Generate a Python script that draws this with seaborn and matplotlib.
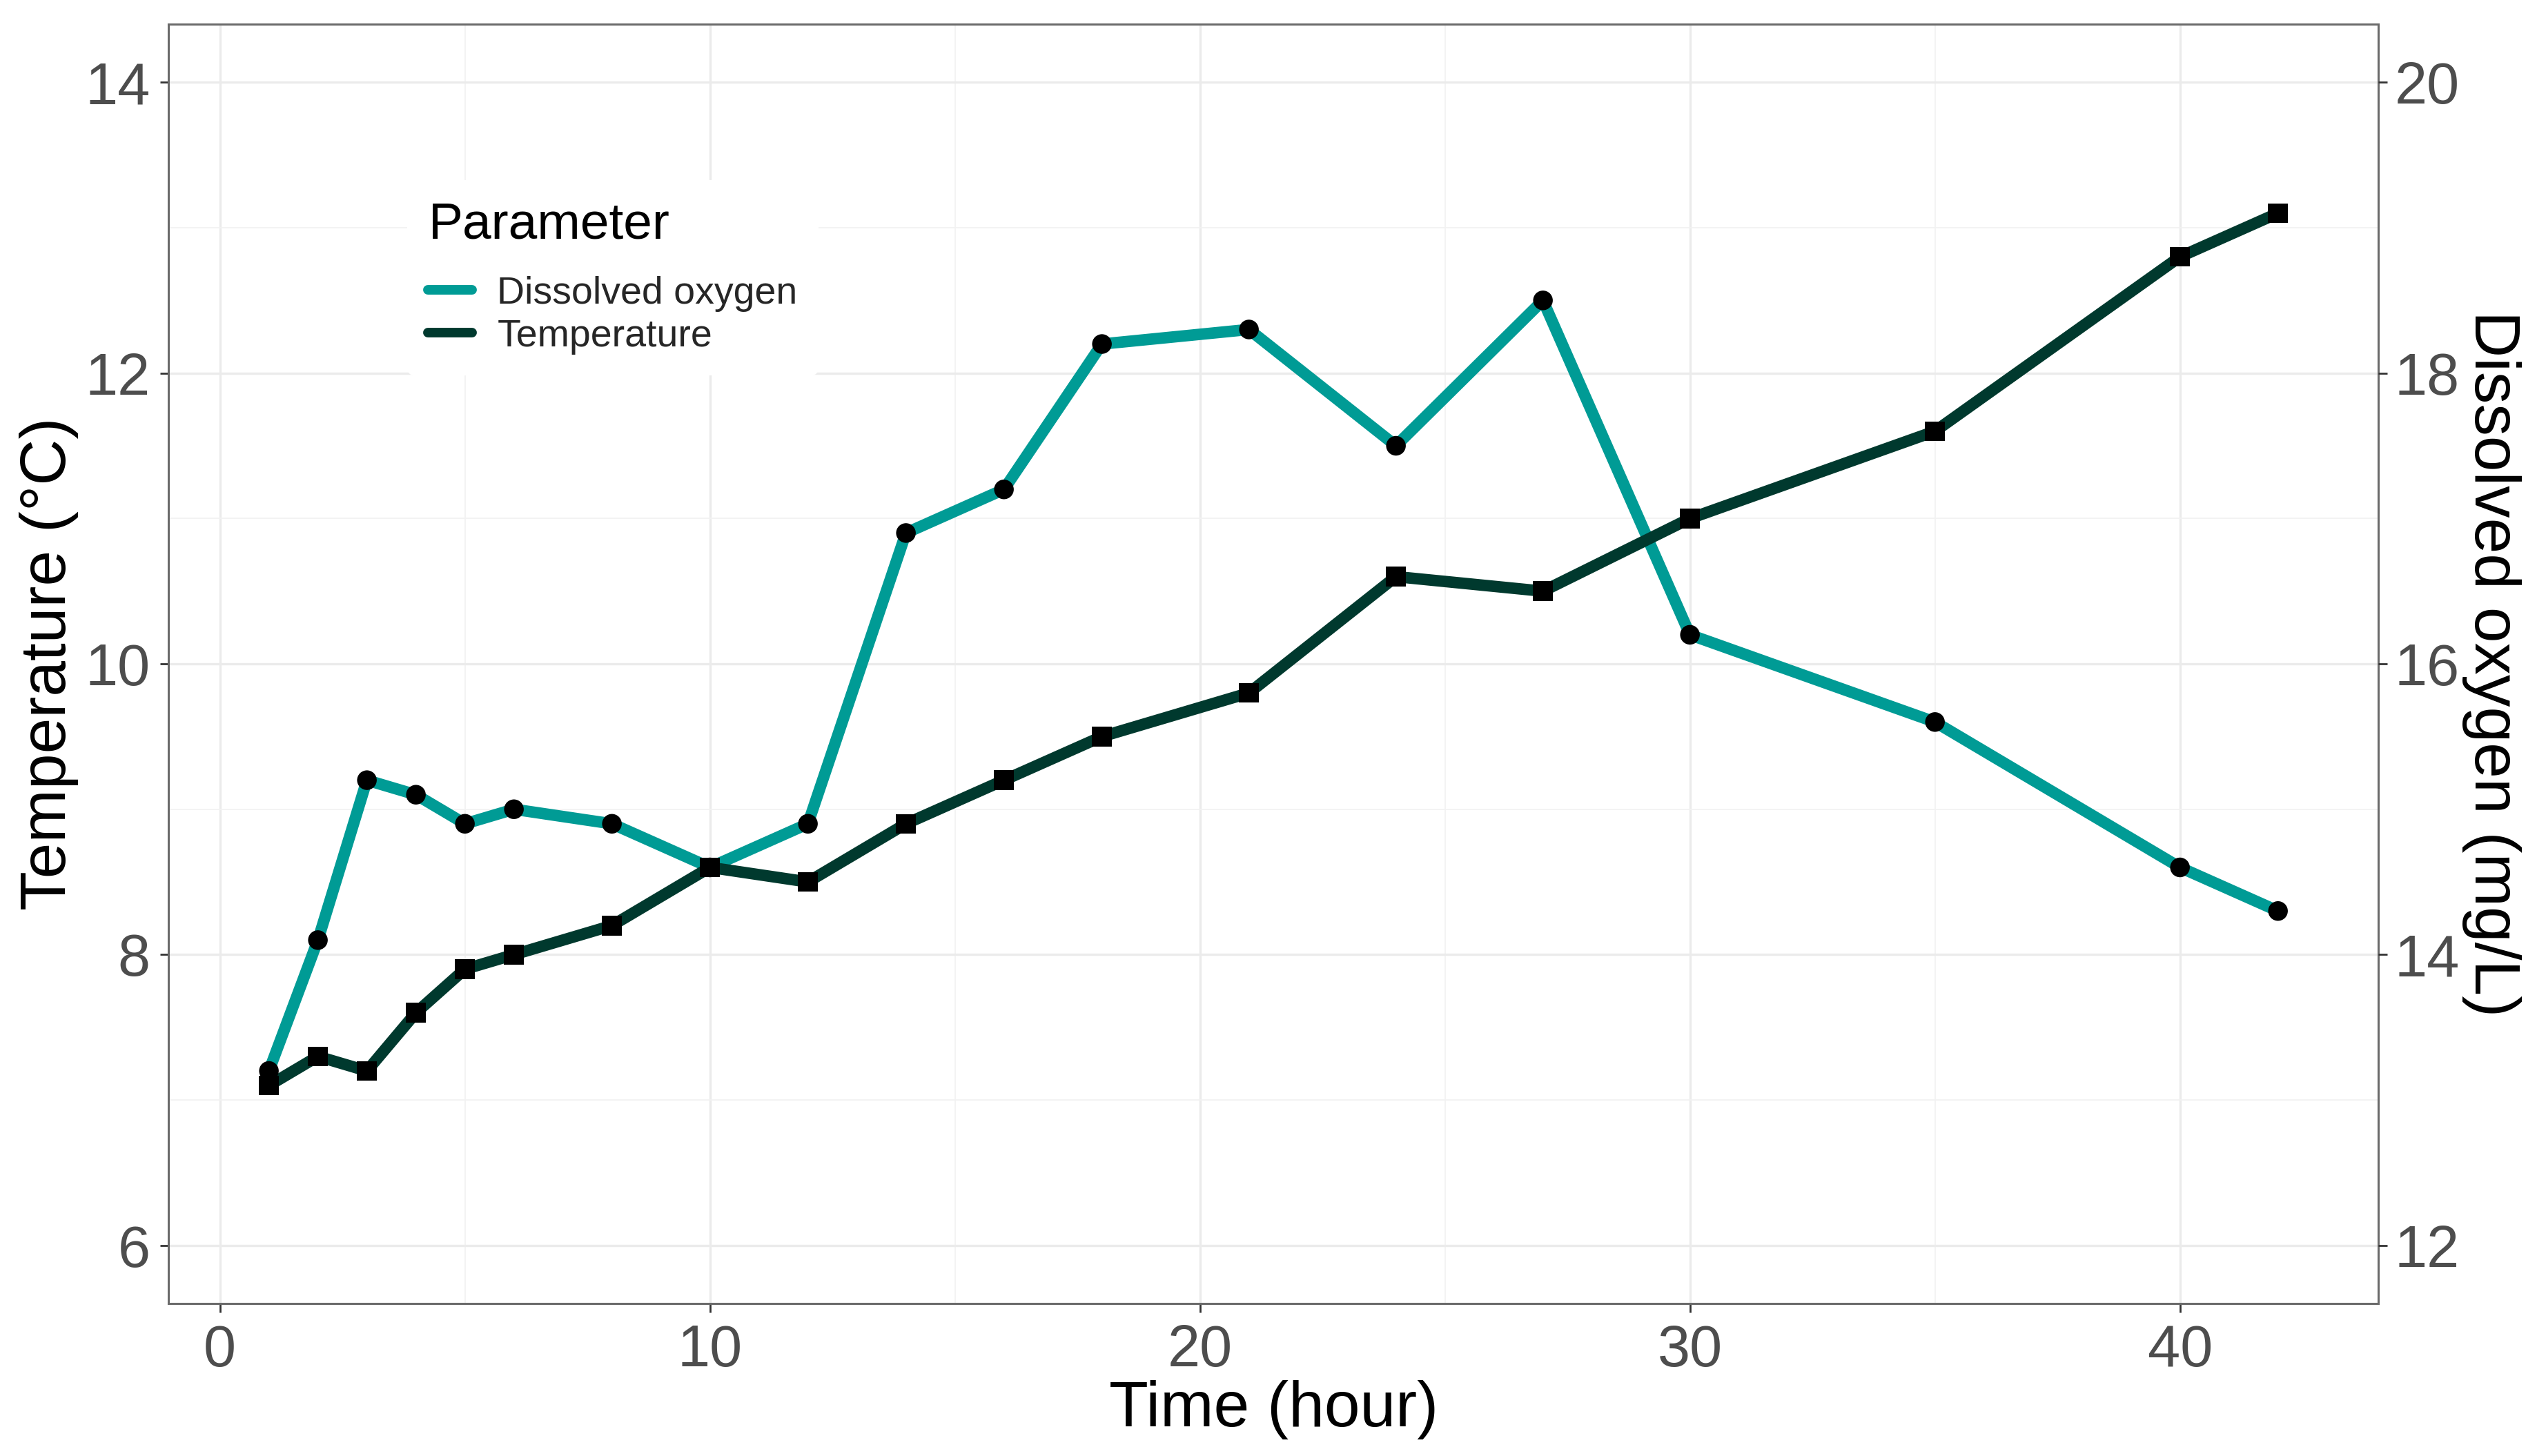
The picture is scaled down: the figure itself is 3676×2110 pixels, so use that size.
import numpy as np
import pandas as pd
import matplotlib
matplotlib.use("Agg")
import matplotlib.pyplot as plt
import seaborn as sns
from matplotlib.ticker import MultipleLocator

# ── Data ──────────────────────────────────────────────────────────────────────
time_h = [1, 2, 3, 4, 5, 6, 8, 10, 12, 14, 16, 18, 21, 24, 27, 30, 35, 40, 42]
temperature = [7.1, 7.3, 7.2, 7.6, 7.9, 8.0, 8.2, 8.6, 8.5, 8.9, 9.2, 9.5,
               9.8, 10.6, 10.5, 11.0, 11.6, 12.8, 13.1]
dissolved_oxygen = [13.2, 14.1, 15.2, 15.1, 14.9, 15.0, 14.9, 14.6, 14.9, 16.9,
                    17.2, 18.2, 18.3, 17.5, 18.5, 16.2, 15.6, 14.6, 14.3]
parameters = ["Dissolved oxygen", "Temperature"]
temp_ticks = [6, 8, 10, 12, 14]
do_ticks = [12, 14, 16, 18, 20]
x_ticks = [0, 10, 20, 30, 40]
DO_OFFSET = 6  # secondary axis: DO (mg/L) = primary value + 6

# plot everything on the temperature scale
df = pd.concat([
    pd.DataFrame({"Time": time_h,
                  "Value": np.array(dissolved_oxygen) - DO_OFFSET,
                  "Parameter": parameters[0]}),
    pd.DataFrame({"Time": time_h, "Value": temperature,
                  "Parameter": parameters[1]}),
], ignore_index=True)

palette = {"Dissolved oxygen": "#009B95", "Temperature": "#00392E"}
markers = {"Dissolved oxygen": "o", "Temperature": "s"}

sns.set_theme(style="whitegrid")
plt.rcParams["font.family"] = ["Liberation Sans", "DejaVu Sans"]

fig = plt.figure(figsize=(36.76, 21.10), dpi=100)
ax = fig.add_axes([0.0664, 0.1047, 0.8711, 0.8787])

sns.lineplot(data=df, x="Time", y="Value", hue="Parameter", palette=palette,
             hue_order=parameters, ax=ax, legend=True)
for ln in ax.lines:
    ln.set_linewidth(12)
sns.scatterplot(data=df, x="Time", y="Value", style="Parameter",
                markers=markers, color="black", s=420, linewidth=0,
                ax=ax, legend=False, zorder=5)

ax.set_xlim(-1.05, 44.05)
ax.set_ylim(5.6, 14.4)
ax.set_xticks(x_ticks)
ax.set_yticks(temp_ticks)
ax.xaxis.set_minor_locator(MultipleLocator(5))
ax.yaxis.set_minor_locator(MultipleLocator(1))
ax.grid(which="major", color="#EBEBEB", linewidth=2.4)
ax.grid(which="minor", color="#F2F2F2", linewidth=1.3)
ax.set_axisbelow(True)

grey_text = "#4D4D4D"
ax.tick_params(axis="both", which="major", labelsize=61, labelcolor=grey_text,
               length=9, width=2, color="#333333", bottom=True, left=True)
ax.tick_params(axis="x", pad=12)
ax.tick_params(axis="y", pad=10)
ax.tick_params(which="minor", length=0)

ax.set_xlabel("Time (hour)", fontsize=67, color="black", va="center")
ax.set_ylabel("Temperature (°C)", fontsize=67, color="black", va="center")
ax.xaxis.set_label_coords(0.5, -0.083)
ax.yaxis.set_label_coords(-0.054, 0.5)

for sp in ax.spines.values():
    sp.set_color("#6B6B6B")
    sp.set_linewidth(2.2)

# secondary axis for dissolved oxygen
ax2 = ax.twinx()
ax2.set_ylim(5.6 + DO_OFFSET, 14.4 + DO_OFFSET)
ax2.set_yticks(do_ticks)
ax2.grid(False)
ax2.tick_params(axis="y", labelsize=61, labelcolor=grey_text, length=9,
                width=2, color="#333333", right=True, pad=8)
ax2.set_ylabel("Dissolved oxygen (mg/L)", fontsize=67, color="black",
               rotation=270, va="center", ha="center")
ax2.yaxis.set_label_coords(1.051, 0.5)
for sp in ax2.spines.values():
    sp.set_visible(False)

# legend
handles, labels = ax.get_legend_handles_labels()
for h in handles:
    h.set_linewidth(10)
leg = ax.legend(handles, labels, title="Parameter", loc="upper left",
                bbox_to_anchor=(0.108, 0.878), borderaxespad=0,
                fontsize=40, title_fontsize=54, frameon=True,
                handlelength=1.15, handletextpad=0.65, labelspacing=0.18,
                borderpad=0.55, alignment="left")
leg.get_frame().set_facecolor("white")
leg.get_frame().set_edgecolor("none")
leg.get_frame().set_alpha(1)
leg.get_title().set_color("black")
# extra gap between legend title and keys, as in the reference
leg._legend_box.sep = 28

fig.savefig("out.png", dpi=100, facecolor="white")
plt.close(fig)
